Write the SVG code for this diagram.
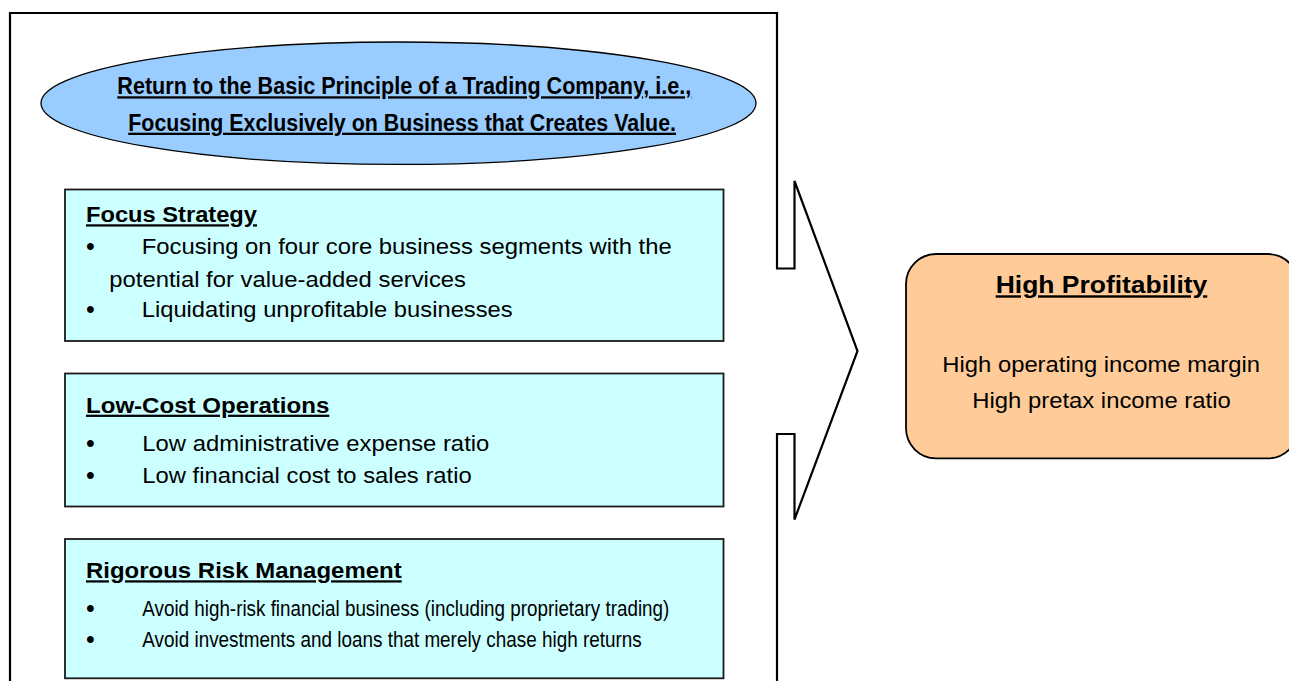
<svg xmlns="http://www.w3.org/2000/svg" width="1289" height="681" viewBox="0 0 1289 681">
  <style>
    text { font-family: "Liberation Sans", Arial, sans-serif; fill: #000; }
    .narrow { font-family: "Liberation Sans Narrow", "Arial Narrow", "Liberation Sans", sans-serif; }
    .head { font-size: 22.5px; font-weight: bold; text-decoration: underline; }
    .body { font-size: 22px; }
    .nbody { font-size: 22px; }
    .bullet { font-size: 25px; text-anchor: middle; }
    .lead { font-size: 23px; font-weight: bold; text-decoration: underline; }
    .box { fill: #CCFFFF; stroke: #1a1a1a; stroke-width: 1.8; }
    .frame { fill: none; stroke: #000; stroke-width: 2.2; stroke-linejoin: miter; }
  </style>

  <!-- bracket frame that narrows into a chevron pointing at the result box -->
  <g id="connectors">
    <path class="frame" d="M 10 690 L 10 13 L 777 13 L 777 268.5 L 794.5 268.5 L 794.5 181 L 857.5 351 L 794.5 519.5 L 794.5 434 L 777 434 L 777 690"/>
  </g>

  <!-- guiding principle -->
  <g id="principle">
    <ellipse cx="398.5" cy="103.2" rx="357.5" ry="61.2" fill="#99CCFF" stroke="#000" stroke-width="1.3"/>
    <text class="lead narrow" x="117.3" y="94.3" textLength="574" lengthAdjust="spacingAndGlyphs">Return to the Basic Principle of a Trading Company, i.e.,</text>
    <text class="lead narrow" x="128.3" y="130.7" textLength="547.7" lengthAdjust="spacingAndGlyphs">Focusing Exclusively on Business that Creates Value.</text>
  </g>

  <!-- strategy 1 -->
  <g id="focus-strategy">
    <rect class="box" x="65" y="189.5" width="658.5" height="151.5"/>
    <text class="head" x="86" y="222.3" textLength="171" lengthAdjust="spacingAndGlyphs">Focus Strategy</text>
    <text class="bullet" x="90.5" y="255">•</text>
    <text class="body" x="141.7" y="254" textLength="530" lengthAdjust="spacingAndGlyphs">Focusing on four core business segments with the</text>
    <text class="body" x="109.3" y="286.7" textLength="356.7" lengthAdjust="spacingAndGlyphs">potential for value-added services</text>
    <text class="bullet" x="90.5" y="317.7">•</text>
    <text class="body" x="141.7" y="316.7" textLength="371" lengthAdjust="spacingAndGlyphs">Liquidating unprofitable businesses</text>
  </g>

  <!-- strategy 2 -->
  <g id="low-cost">
    <rect class="box" x="65" y="373.5" width="658.5" height="133"/>
    <text class="head" x="86" y="412.7" textLength="243.3" lengthAdjust="spacingAndGlyphs">Low-Cost Operations</text>
    <text class="bullet" x="90.5" y="451.7">•</text>
    <text class="body" x="142.3" y="450.7" textLength="347" lengthAdjust="spacingAndGlyphs">Low administrative expense ratio</text>
    <text class="bullet" x="90.5" y="483.7">•</text>
    <text class="body" x="142.3" y="482.7" textLength="329.4" lengthAdjust="spacingAndGlyphs">Low financial cost to sales ratio</text>
  </g>

  <!-- strategy 3 -->
  <g id="risk-management">
    <rect class="box" x="65" y="539" width="658.5" height="139.3"/>
    <text class="head" x="86" y="578.3" textLength="315.7" lengthAdjust="spacingAndGlyphs">Rigorous Risk Management</text>
    <text class="bullet" x="90.5" y="616.5" font-size="22">•</text>
    <text class="nbody narrow" x="142.3" y="616" textLength="527" lengthAdjust="spacingAndGlyphs">Avoid high-risk financial business (including proprietary trading)</text>
    <text class="bullet" x="90.5" y="647.8" font-size="22">•</text>
    <text class="nbody narrow" x="142.3" y="647.3" textLength="499.4" lengthAdjust="spacingAndGlyphs">Avoid investments and loans that merely chase high returns</text>
  </g>

  <!-- outcome -->
  <g id="high-profitability">
    <rect x="906" y="254" width="392" height="204.3" rx="30" ry="30" fill="#FFCC99" stroke="#000" stroke-width="1.8"/>
    <text x="995.7" y="293.3" font-size="24" font-weight="bold" text-decoration="underline" textLength="211.6" lengthAdjust="spacingAndGlyphs">High Profitability</text>
    <text class="body" x="942.3" y="372.3" textLength="317.7" lengthAdjust="spacingAndGlyphs">High operating income margin</text>
    <text class="body" x="972.3" y="408.3" textLength="258.4" lengthAdjust="spacingAndGlyphs">High pretax income ratio</text>
  </g>
</svg>
